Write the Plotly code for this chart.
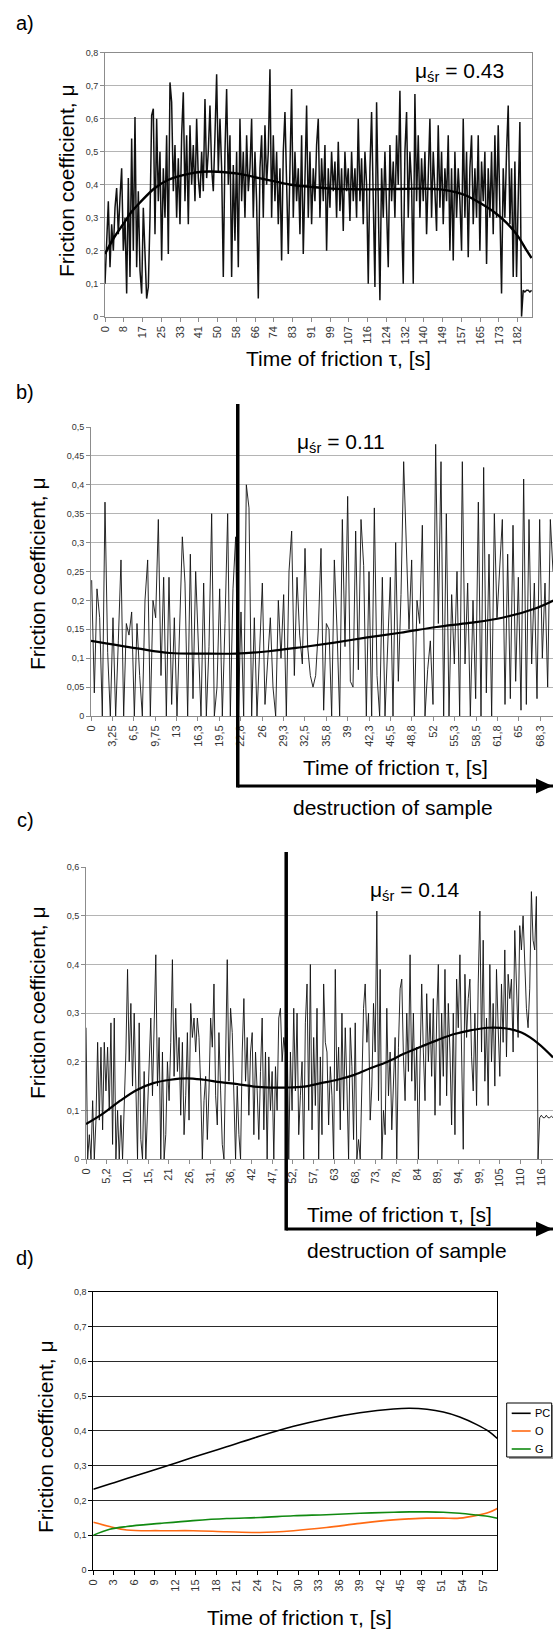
import numpy as np
import plotly.graph_objects as go

W, H = 553, 1630

# ---------------- data ----------------
# a) friction coefficient signal (uniform sampling), trend, ticks
a_mu = [
    0.10, 0.22, 0.35, 0.15, 0.28, 0.20, 0.33, 0.39, 0.25, 0.36,
    0.45, 0.20, 0.30, 0.07, 0.42, 0.12, 0.54, 0.20, 0.605, 0.15,
    0.38, 0.14, 0.07, 0.33, 0.18, 0.055, 0.09, 0.30, 0.61, 0.63,
    0.25, 0.60, 0.35, 0.50, 0.17, 0.45, 0.30, 0.55, 0.19, 0.71,
    0.65, 0.38, 0.52, 0.30, 0.48, 0.28, 0.55, 0.68, 0.35, 0.55,
    0.28, 0.58, 0.40, 0.52, 0.35, 0.60, 0.42, 0.36, 0.50, 0.38,
    0.66, 0.42, 0.50, 0.64, 0.45, 0.38, 0.55, 0.735, 0.44, 0.60,
    0.45, 0.12, 0.50, 0.69, 0.40, 0.55, 0.12, 0.46, 0.23, 0.50,
    0.15, 0.60, 0.35, 0.50, 0.30, 0.55, 0.38, 0.45, 0.60, 0.30,
    0.50, 0.35, 0.055, 0.45, 0.55, 0.30, 0.58, 0.40, 0.50, 0.75,
    0.30, 0.55, 0.35, 0.50, 0.28, 0.45, 0.17, 0.50, 0.62, 0.35,
    0.19, 0.45, 0.69, 0.30, 0.50, 0.35, 0.45, 0.25, 0.55, 0.19,
    0.38, 0.64, 0.30, 0.50, 0.28, 0.45, 0.35, 0.52, 0.60, 0.30,
    0.48, 0.35, 0.52, 0.20, 0.45, 0.33, 0.50, 0.38, 0.47, 0.30,
    0.53, 0.32, 0.45, 0.26, 0.50, 0.38, 0.45, 0.29, 0.50, 0.35,
    0.45, 0.30, 0.60, 0.35, 0.48, 0.28, 0.50, 0.40, 0.10, 0.45,
    0.62, 0.30, 0.09, 0.65, 0.35, 0.05, 0.45, 0.30, 0.50, 0.35,
    0.15, 0.52, 0.35, 0.47, 0.30, 0.55, 0.40, 0.685, 0.30, 0.10,
    0.50, 0.62, 0.30, 0.50, 0.40, 0.10, 0.675, 0.35, 0.55, 0.30,
    0.48, 0.35, 0.50, 0.25, 0.45, 0.60, 0.30, 0.50, 0.38, 0.26,
    0.58, 0.33, 0.50, 0.28, 0.45, 0.35, 0.55, 0.20, 0.45, 0.17,
    0.50, 0.30, 0.45, 0.35, 0.20, 0.60, 0.30, 0.50, 0.18, 0.45,
    0.55, 0.28, 0.45, 0.30, 0.55, 0.20, 0.47, 0.35, 0.50, 0.16,
    0.45, 0.30, 0.50, 0.25, 0.55, 0.30, 0.58, 0.25, 0.07, 0.45,
    0.30, 0.50, 0.64, 0.28, 0.45, 0.12, 0.47, 0.12, 0.35, 0.59,
    0.0, 0.08, 0.075, 0.08, 0.08, 0.075, 0.08,
]
a_t_end = 188.1
a_axis_end = 188.3
a_trend_t = [0, 4, 8, 12, 16, 22, 28, 34, 40, 46, 54, 60, 68, 75, 82, 90, 100,
             110, 120, 130, 140, 148, 155, 160, 166, 172, 177, 182, 186, 188.1]
a_trend_mu = [0.19, 0.24, 0.28, 0.32, 0.35, 0.39, 0.415, 0.428, 0.437, 0.44,
              0.437, 0.432, 0.42, 0.41, 0.40, 0.394, 0.388, 0.386, 0.386, 0.387,
              0.388, 0.386, 0.377, 0.365, 0.342, 0.315, 0.285, 0.245, 0.20, 0.178]
a_xticks = ["0", "8", "17", "25", "33", "41", "50", "58", "66", "74", "83", "91",
            "99", "107", "116", "124", "132", "140", "149", "157", "165", "173", "182"]
a_xtick_last = 182.0
a_yticks = ["0", "0,1", "0,2", "0,3", "0,4", "0,5", "0,6", "0,7", "0,8"]
a_yvals = [0, 0.1, 0.2, 0.3, 0.4, 0.5, 0.6, 0.7, 0.8]

# b)
b_mu = [
    0.235, 0.04, 0.22, 0.17, 0.0, 0.37, 0.11, 0.0, 0.17, 0.0,
    0.13, 0.27, 0.0, 0.16, 0.14, 0.18, 0.0, 0.16, 0.07, 0.0,
    0.20, 0.27, 0.0, 0.20, 0.17, 0.34, 0.07, 0.24, 0.0, 0.24,
    0.02, 0.17, 0.0, 0.15, 0.31, 0.23, 0.0, 0.28, 0.03, 0.25,
    0.14, 0.0, 0.23, 0.0, 0.12, 0.35, 0.0, 0.05, 0.22, 0.0,
    0.16, 0.35, 0.0, 0.22, 0.31, 0.0, 0.18, 0.0, 0.40, 0.36,
    0.0, 0.17, 0.0, 0.12, 0.23, 0.02, 0.10, 0.17, 0.05, 0.0,
    0.20, 0.10, 0.21, 0.0, 0.25, 0.32, 0.07, 0.24, 0.14, 0.09,
    0.29, 0.12, 0.07, 0.05, 0.07, 0.15, 0.29, 0.01, 0.16, 0.15,
    0.0, 0.27, 0.15, 0.0, 0.34, 0.12, 0.38, 0.06, 0.05, 0.32,
    0.08, 0.34, 0.26, 0.0, 0.25, 0.0, 0.36, 0.07, 0.0, 0.24,
    0.0, 0.13, 0.24, 0.0, 0.30, 0.06, 0.21, 0.44, 0.29, 0.15,
    0.27, 0.0, 0.20, 0.16, 0.33, 0.0, 0.08, 0.13, 0.02, 0.47,
    0.16, 0.44, 0.0, 0.35, 0.0, 0.21, 0.09, 0.25, 0.0, 0.44,
    0.09, 0.23, 0.0, 0.20, 0.03, 0.37, 0.0, 0.43, 0.04, 0.28,
    0.0, 0.35, 0.17, 0.26, 0.34, 0.02, 0.28, 0.03, 0.33, 0.06,
    0.24, 0.01, 0.41, 0.02, 0.34, 0.09, 0.23, 0.03, 0.34, 0.10,
    0.23, 0.05, 0.34, 0.25,
]
b_t_start, b_t_end = 0.1, 70.2
b_axis_end = 70.2
b_trend_t = [0, 7, 12, 17, 22, 27, 32, 37, 42, 47, 52.5, 57.5, 62.5, 67.5, 70.3]
b_trend_mu = [0.13, 0.117, 0.109, 0.108, 0.108, 0.112, 0.119, 0.127, 0.136, 0.144,
              0.154, 0.161, 0.17, 0.186, 0.20]
b_xticks = ["0", "3,25", "6,5", "9,75", "13", "16,3", "19,5", "22,8", "26", "29,3",
            "32,5", "35,8", "39", "42,3", "45,5", "48,8", "52", "55,3", "58,5",
            "61,8", "65", "68,3"]
b_xtick_last = 68.25
b_yticks = ["0", "0,05", "0,1", "0,15", "0,2", "0,25", "0,3", "0,35", "0,4", "0,45", "0,5"]
b_yvals = [0, 0.05, 0.1, 0.15, 0.2, 0.25, 0.3, 0.35, 0.4, 0.45, 0.5]
b_destruction = 22.3

# c)
c_mu = [
    0.27, 0.0, 0.05, 0.0, 0.12, 0.0,
    0.08, 0.24, 0.08, 0.23, 0.06, 0.24, 0.14, 0.23, 0.10, 0.28,
    0.03, 0.29, 0.0, 0.10, 0.0, 0.09, 0.0, 0.10, 0.22, 0.39,
    0.20, 0.32, 0.15, 0.30, 0.17, 0.0, 0.28, 0.04, 0.0, 0.18,
    0.0, 0.10, 0.20, 0.29, 0.13, 0.25, 0.42, 0.15, 0.25, 0.0,
    0.22, 0.0, 0.05, 0.20, 0.12, 0.24, 0.41, 0.17, 0.31, 0.18,
    0.25, 0.09, 0.24, 0.05, 0.13, 0.26, 0.08, 0.32, 0.25, 0.29,
    0.22, 0.29, 0.25, 0.15, 0.0, 0.12, 0.17, 0.04, 0.14, 0.29,
    0.23, 0.36, 0.13, 0.07, 0.26, 0.14, 0.03, 0.0, 0.20, 0.41,
    0.16, 0.31, 0.26, 0.12, 0.0, 0.15, 0.05, 0.0, 0.22, 0.33,
    0.16, 0.25, 0.09, 0.22, 0.26, 0.05, 0.22, 0.14, 0.04, 0.18,
    0.29, 0.06, 0.22, 0.0, 0.21, 0.10, 0.18, 0.0, 0.19, 0.10,
    0.29, 0.31, 0.20, 0.25, 0.22, 0.27, 0.0, 0.22, 0.10, 0.31,
    0.14, 0.30, 0.05, 0.13, 0.20, 0.0, 0.28, 0.36, 0.10, 0.40,
    0.06, 0.25, 0.11, 0.31, 0.0, 0.21, 0.05, 0.36, 0.24, 0.22,
    0.07, 0.19, 0.13, 0.0, 0.39, 0.14, 0.23, 0.06, 0.30, 0.10,
    0.27, 0.15, 0.0, 0.27, 0.19, 0.04, 0.28, 0.0, 0.04, 0.0,
    0.14, 0.31, 0.36, 0.24, 0.30, 0.08, 0.15, 0.32, 0.22, 0.51,
    0.12, 0.39, 0.0, 0.10, 0.05, 0.31, 0.13, 0.22, 0.06, 0.18,
    0.25, 0.0, 0.23, 0.35, 0.37, 0.21, 0.12, 0.30, 0.18, 0.42,
    0.16, 0.30, 0.12, 0.23, 0.0, 0.20, 0.36, 0.22, 0.12, 0.34,
    0.20, 0.30, 0.17, 0.33, 0.09, 0.29, 0.40, 0.11, 0.30, 0.17,
    0.39, 0.13, 0.32, 0.22, 0.07, 0.30, 0.05, 0.37, 0.27, 0.42,
    0.21, 0.02, 0.38, 0.25, 0.33, 0.37, 0.21, 0.14, 0.30, 0.11,
    0.36, 0.51, 0.22, 0.45, 0.16, 0.29, 0.11, 0.40, 0.20, 0.32,
    0.15, 0.39, 0.27, 0.17, 0.36, 0.24, 0.43, 0.21, 0.38, 0.33,
    0.37, 0.22, 0.47, 0.35, 0.25, 0.48, 0.43, 0.50, 0.41, 0.31,
    0.27, 0.35, 0.55, 0.45, 0.43, 0.54,
    0.0, 0.085, 0.09, 0.085, 0.085, 0.09, 0.085, 0.085, 0.088, 0.085,
]
c_t_end = 118.5
c_axis_end = 118.5
c_trend_t = [0, 4.4, 8.7, 12.9, 17.1, 21.4, 25.6, 29.9, 34.1, 38.4, 42.6, 46.8, 51.1,
             55.3, 59.6, 63.8, 68.1, 72.3, 76.5, 80.8, 85.0, 89.3, 93.5, 97.8,
             102.0, 106.3, 110.5, 114.7, 118.5]
c_trend_mu = [0.072, 0.094, 0.12, 0.142, 0.156, 0.163, 0.166, 0.163, 0.158, 0.154,
              0.149, 0.147, 0.147, 0.149, 0.156, 0.163, 0.173, 0.187, 0.20, 0.217,
              0.231, 0.245, 0.257, 0.265, 0.27, 0.269, 0.26, 0.238, 0.209]
c_xticks = ["0", "5,2", "10,", "15,", "21", "26,", "31,", "36,", "42", "47,", "52,",
            "57,", "63", "68,", "73,", "78,", "84", "89,", "94,", "99,", "105", "110", "116"]
c_xtick_last = 115.5
c_yticks = ["0", "0,1", "0,2", "0,3", "0,4", "0,5", "0,6"]
c_yvals = [0, 0.1, 0.2, 0.3, 0.4, 0.5, 0.6]
c_destruction = 50.8

# d) averaged trends
d_time = [0, 2.4, 4.9, 9.8, 14.6, 19.5, 24.4, 29.3, 34.1, 39.0, 43.9, 46.3, 48.8,
          51.2, 53.6, 56.1, 57.9, 59.1]
d_pc = [0.232, 0.247, 0.263, 0.293, 0.324, 0.354, 0.385, 0.413, 0.435, 0.452, 0.463,
        0.465, 0.462, 0.454, 0.44, 0.418, 0.398, 0.378]
d_o = [0.137, 0.125, 0.115, 0.113, 0.113, 0.11, 0.108, 0.113, 0.122, 0.134, 0.144,
       0.147, 0.149, 0.149, 0.149, 0.157, 0.166, 0.177]
d_g = [0.100, 0.117, 0.125, 0.134, 0.142, 0.148, 0.151, 0.156, 0.159, 0.163, 0.166,
       0.167, 0.167, 0.166, 0.163, 0.158, 0.154, 0.149]
d_names = ["PC", "O", "G"]
d_colors = ["#000000", "#ff6a13", "#118a11"]
d_xticks = ["0", "3", "6", "9", "12", "15", "18", "21", "24", "27", "30", "33", "36",
            "39", "42", "45", "48", "51", "54", "57"]
d_xtick_last = 57.0
d_axis_end = 59.1
d_yticks = ["0", "0,1", "0,2", "0,3", "0,4", "0,5", "0,6", "0,7", "0,8"]
d_yvals = [0, 0.1, 0.2, 0.3, 0.4, 0.5, 0.6, 0.7, 0.8]

mu_labels = {"a": "0.43", "b": "0.11", "c": "0.14"}

# ---------------- helpers ----------------
def fx(p):
    return p / W


def fy(p):
    return 1 - p / H


MAINF = "Liberation Sans, Arial, sans-serif"
TICKF = "Liberation Sans, Arial, sans-serif"
GRAYL = "#8c8c8c"
GRID = "#b4b4b4"

fig = go.Figure()

# a
fig.add_trace(go.Scatter(x=np.linspace(0, a_t_end, len(a_mu)), y=a_mu, mode="lines",
                         line=dict(color="#111111", width=1.5), xaxis="x", yaxis="y",
                         showlegend=False, hoverinfo="skip"))
fig.add_trace(go.Scatter(x=a_trend_t, y=a_trend_mu, mode="lines", line_shape="spline",
                         line=dict(color="#000000", width=2.4), xaxis="x", yaxis="y",
                         showlegend=False))
# b
fig.add_trace(go.Scatter(x=np.linspace(b_t_start, b_t_end, len(b_mu)), y=b_mu, mode="lines",
                         line=dict(color="#111111", width=0.9), xaxis="x2", yaxis="y2",
                         showlegend=False, hoverinfo="skip"))
fig.add_trace(go.Scatter(x=b_trend_t, y=b_trend_mu, mode="lines", line_shape="spline",
                         line=dict(color="#000000", width=2.2), xaxis="x2", yaxis="y2",
                         showlegend=False))
# c
fig.add_trace(go.Scatter(x=np.linspace(0, c_t_end, len(c_mu)), y=c_mu, mode="lines",
                         line=dict(color="#111111", width=0.9), xaxis="x3", yaxis="y3",
                         showlegend=False, hoverinfo="skip"))
fig.add_trace(go.Scatter(x=c_trend_t, y=c_trend_mu, mode="lines", line_shape="spline",
                         line=dict(color="#000000", width=2.2), xaxis="x3", yaxis="y3",
                         showlegend=False))
# d
for name, ys, col in zip(d_names, [d_pc, d_o, d_g], d_colors):
    fig.add_trace(go.Scatter(x=d_time, y=ys, mode="lines", line_shape="spline", name=name,
                             line=dict(color=col, width=1.6), xaxis="x4", yaxis="y4",
                             showlegend=False))


def xaxis(domain, anchor, rng, labels, last, line=GRAYL, mirror=False):
    step = last / (len(labels) - 1)
    return dict(domain=domain, anchor=anchor, range=rng, showgrid=False, zeroline=False,
                automargin=False,
                showline=True, linecolor=line, linewidth=1, mirror=mirror,
                ticks="outside", ticklen=4, tickcolor=line,
                tickvals=[i * step for i in range(len(labels))], ticktext=labels,
                tickangle=-90, tickfont=dict(family=TICKF, size=11, color="#333333"))


def yaxis(domain, anchor, rng, labels, vals, line=GRAYL, grid=GRID, mirror=False):
    return dict(domain=domain, anchor=anchor, range=rng, showgrid=True, gridcolor=grid,
                gridwidth=1, zeroline=False, showline=True, linecolor=line, linewidth=1,
                automargin=False,
                mirror=mirror, ticks="outside", ticklen=4, tickcolor=line,
                tickvals=vals, ticktext=labels,
                tickfont=dict(family=TICKF, size=9, color="#333333"))


layout = dict(
    width=W, height=H, margin=dict(l=0, r=0, t=0, b=0, pad=0), autosize=False,
    paper_bgcolor="white", plot_bgcolor="white", showlegend=False,
    xaxis=xaxis([fx(105), fx(532)], "y", [0, a_axis_end], a_xticks, a_xtick_last, mirror=True),
    yaxis=yaxis([fy(316.7), fy(52.7)], "x", [0, 0.8], a_yticks, a_yvals, mirror=True),
    xaxis2=xaxis([fx(91), 1.0], "y2", [0, b_axis_end], b_xticks, b_xtick_last),
    yaxis2=yaxis([fy(716), fy(427)], "x2", [0, 0.5], b_yticks, b_yvals),
    xaxis3=xaxis([fx(86), 1.0], "y3", [0, c_axis_end], c_xticks, c_xtick_last),
    yaxis3=yaxis([fy(1159), fy(867.3)], "x3", [0, 0.6], c_yticks, c_yvals),
    xaxis4=xaxis([fx(93.3), fx(497.3)], "y4", [0, d_axis_end], d_xticks, d_xtick_last,
                 line="#000000", mirror=True),
    yaxis4=yaxis([fy(1570), fy(1291.7)], "x4", [0, 0.8], d_yticks, d_yvals,
                 line="#000000", grid="#2a2a2a", mirror=True),
)
fig.update_layout(**layout)

ann = []


def text(s, x, y, size, family=MAINF, angle=0, xanchor="center"):
    ann.append(dict(text=s, x=fx(x), y=fy(y), xref="paper", yref="paper", showarrow=False,
                    xanchor=xanchor, yanchor="middle", textangle=angle,
                    font=dict(family=family, size=size, color="#000000")))


# panel letters
for s, y in [("a)", 22.5), ("b)", 392), ("c)", 820), ("d)", 1258)]:
    text(s, 25, y, 20)
# y titles
for x, y in [(66, 181), (37, 574), (37, 1003), (45, 1437)]:
    text("Friction coefficient, μ", x, y, 21, angle=-90)
# x titles
for x, y in [(338, 358), (395, 768), (399.5, 1214), (299, 1617)]:
    text("Time of friction τ, [s]", x, y, 21)
# destruction labels
for x, y in [(392.5, 807), (406.5, 1250)]:
    text("destruction of sample", x, y, 21)
# mean values
for key, (x, y) in zip(["a", "b", "c"], [(459, 72), (341, 443), (414, 891)]):
    text("μ<sub>śr</sub> = " + mu_labels[key], x, y, 21)

# legend text
for name, y in zip(d_names, [1413.3, 1431, 1449]):
    text(name, 533, y, 11, family=TICKF, xanchor="left")

fig.update_layout(annotations=ann)

shapes = []
# destruction markers
for xref, t, ytop, ybot in [("x2", b_destruction, 404, 786), ("x3", c_destruction, 852, 1229)]:
    end = b_axis_end if xref == "x2" else c_axis_end
    shapes.append(dict(type="line", xref=xref, yref="paper", x0=t, x1=t,
                       y0=fy(ytop), y1=fy(ybot + 1.5), line=dict(color="black", width=3.5)))
    shapes.append(dict(type="line", xref=xref, yref="paper", x0=t, x1=end,
                       y0=fy(ybot), y1=fy(ybot), line=dict(color="black", width=3)))
    shapes.append(dict(type="path", xref="paper", yref="paper",
                       path=f"M {fx(536)},{fy(ybot - 7.5)} L {fx(552.5)},{fy(ybot)} L {fx(536)},{fy(ybot + 7.5)} Z",
                       fillcolor="black", line=dict(color="black", width=0)))
# legend box
shapes.append(dict(type="rect", xref="paper", yref="paper", x0=fx(509), x1=fx(553),
                   y0=fy(1459), y1=fy(1405), fillcolor="#9a9a9a", line=dict(width=0), layer="below"))
shapes.append(dict(type="rect", xref="paper", yref="paper", x0=fx(506.7), x1=fx(551.7),
                   y0=fy(1457), y1=fy(1403), fillcolor="white", line=dict(color="black", width=1),
                   layer="below"))
for col, y in zip(d_colors, [1413.3, 1431, 1449]):
    shapes.append(dict(type="line", xref="paper", yref="paper", x0=fx(511.7), x1=fx(530.7),
                       y0=fy(y), y1=fy(y), line=dict(color=col, width=1.6)))
fig.update_layout(shapes=shapes)

fig.write_html(
    "out.html",
    config={"displayModeBar": False},
    post_script="document.body.style.margin='0';document.body.style.overflow='hidden';",
)
